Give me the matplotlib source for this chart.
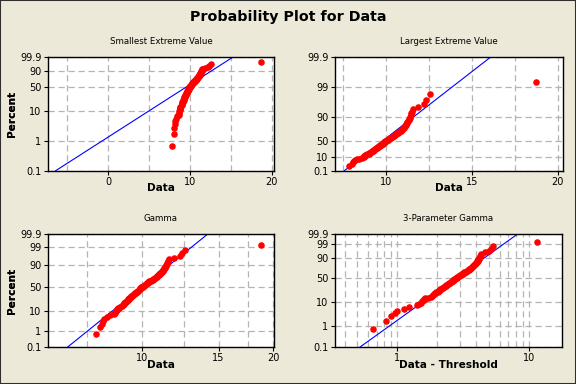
import numpy as np
import matplotlib.pyplot as plt
from matplotlib.patches import Rectangle
from matplotlib.ticker import NullFormatter
from statistics import NormalDist

W, H = 576, 384

# sorted sample (n = 100)
data = [7.86, 8.03, 8.10, 8.16, 8.20, 8.33, 8.44, 8.62, 8.68, 8.72,
        8.76, 8.79, 8.81, 8.84, 8.93, 9.01, 9.05, 9.08, 9.10, 9.12,
        9.15, 9.19, 9.23, 9.27, 9.29, 9.31, 9.33, 9.35, 9.38, 9.42,
        9.46, 9.49, 9.52, 9.55, 9.57, 9.59, 9.62, 9.65, 9.69, 9.72,
        9.75, 9.78, 9.80, 9.83, 9.86, 9.88, 9.90, 9.92, 9.95, 9.98,
        10.01, 10.04, 10.07, 10.10, 10.14, 10.18, 10.21, 10.24, 10.27, 10.31,
        10.35, 10.38, 10.41, 10.45, 10.49, 10.54, 10.58, 10.62, 10.66, 10.70,
        10.74, 10.78, 10.82, 10.86, 10.90, 10.93, 10.96, 10.99, 11.03, 11.07,
        11.11, 11.14, 11.17, 11.20, 11.23, 11.26, 11.29, 11.32, 11.35, 11.38,
        11.41, 11.44, 11.47, 11.51, 11.56, 11.85, 12.22, 12.36, 12.55, 18.75]
threshold = 7.2

# fitted parameters
sev_loc, sev_scale = 10.5, 2.45
lev_loc, lev_scale = 9.445, 0.96
gam_shape, gam_scale = 71.0, 0.1415
gam3_shape, gam3_scale = 6.0, 0.4947

pct_sev = [0.1, 1, 10, 50, 90, 99.9]
pct_lev = [0.1, 10, 50, 90, 99, 99.9]
pct_gam = [0.1, 1, 10, 50, 90, 99, 99.9]

nd = NormalDist()


def sev_y(p):
    p = np.asarray(p, float)
    return np.log(-np.log(1 - p))


def lev_y(p):
    p = np.asarray(p, float)
    return -np.log(-np.log(p))


def gam_y(p, k):
    # Wilson-Hilferty: ln of standard gamma quantile
    z = np.array([nd.inv_cdf(v) for v in np.atleast_1d(p)])
    return 3 * np.log(1 - 1 / (9 * k) + z / (3 * np.sqrt(k))) + np.log(k)


x = np.array(data)
n = len(x)
pp = (np.arange(1, n + 1) - 0.3) / (n + 0.4)
pline = np.linspace(0.001, 0.999, 400)

BG = "#ECE9D8"
GRID = dict(color="#b4b4b4", linestyle=(0, (5, 3)), linewidth=0.9)

fig = plt.figure(figsize=(W / 100, H / 100), dpi=100, facecolor=BG)
plt.rcParams["font.family"] = "DejaVu Sans"


def make_ax(l, t, r, b):
    ax = fig.add_axes([l / W, 1 - b / H, (r - l) / W, (b - t) / H])
    ax.set_facecolor("white")
    for s in ax.spines.values():
        s.set_linewidth(1.0)
        s.set_color("black")
    ax.tick_params(which="major", direction="out", length=3, width=0.8,
                   labelsize=7, pad=1.5)
    ax.tick_params(which="minor", length=0)
    ax.set_axisbelow(True)
    return ax


def finish(ax, title, xlabel, yfun, pcts, cx, top):
    ax.set_ylim(yfun(0.001), yfun(0.999))
    ax.set_yticks(yfun(np.array(pcts) / 100.0))
    ax.set_yticklabels([str(v) for v in pcts])
    ax.grid(True, which="both", axis="x", **GRID)
    ax.grid(True, which="major", axis="y", **GRID)
    fig.text(cx / W, 1 - (top - 15.5) / H, title, ha="center", va="center",
             fontsize=6.2)
    fig.text(cx / W, 1 - (top + 131) / H, xlabel, ha="center", va="center",
             fontsize=7.6, fontweight="bold")
    fig.text(12.5 / W, 1 - (top + 56.5) / H, "Percent", ha="center",
             va="center", rotation=90, fontsize=7.6, fontweight="bold")


mk = dict(marker="o", ms=3.7, color="red", mec="red", ls="none", zorder=3)
ln = dict(color="blue", lw=0.8, zorder=2)

# Smallest extreme value
ax1 = make_ax(47.7, 57.3, 274, 170.7)
ax1.plot(sev_loc + sev_scale * sev_y(pline), sev_y(pline), **ln)
ax1.plot(x, sev_y(pp), **mk)
ax1.set_xlim(-7.4, 20.3)
ax1.set_xticks([0, 10, 20])
ax1.set_xticks([-5, 5, 15], minor=True)
finish(ax1, "Smallest Extreme Value", "Data", sev_y, pct_sev, 160.9, 57.3)

# Largest extreme value
ax2 = make_ax(334.7, 57.3, 563, 170.7)
ax2.plot(lev_loc + lev_scale * lev_y(pline), lev_y(pline), **ln)
ax2.plot(x, lev_y(pp), **mk)
ax2.set_xlim(7.03, 20.3)
ax2.set_xticks([10, 15, 20])
ax2.set_xticks([7.5, 12.5, 17.5], minor=True)
finish(ax2, "Largest Extreme Value", "Data", lev_y, pct_lev, 448.9, 57.3)

# Gamma
gy = lambda p: gam_y(p, gam_shape)
ax3 = make_ax(47.7, 234.3, 274, 347)
ax3.plot(gam_scale * np.exp(gy(pline)), gy(pline), **ln)
ax3.plot(x, gy(pp), **mk)
ax3.set_xscale("log")
ax3.set_xlim(6.08, 20.1)
ax3.set_xticks([10, 15, 20])
ax3.set_xticklabels(["10", "15", "20"])
ax3.set_xticks([7.5, 12.5, 17.5], minor=True)
ax3.xaxis.set_minor_formatter(NullFormatter())
finish(ax3, "Gamma", "Data", gy, pct_gam, 160.9, 234.3)

# 3-parameter gamma
g3 = lambda p: gam_y(p, gam3_shape)
ax4 = make_ax(334.7, 234.3, 562, 347)
ax4.plot(gam3_scale * np.exp(g3(pline)), g3(pline), **ln)
ax4.plot(x - threshold, g3(pp), **mk)
ax4.set_xscale("log")
ax4.set_xlim(0.336, 17.9)
ax4.set_xticks([1, 10])
ax4.set_xticklabels(["1", "10"])
ax4.set_xticks([0.4, 0.5, 0.6, 0.7, 0.8, 0.9, 2, 3, 4, 5, 6, 7, 8, 9],
               minor=True)
ax4.xaxis.set_minor_formatter(NullFormatter())
finish(ax4, "3-Parameter Gamma", "Data - Threshold", g3, pct_gam, 448.4, 234.3)

fig.text(0.5, 1 - 17 / H, "Probability Plot for Data", ha="center",
         va="center", fontsize=10.3, fontweight="bold")
fig.patches.append(Rectangle((0, 0), 1, 1, transform=fig.transFigure,
                             fill=False, ec="#303030", lw=1.5))

fig.savefig("out.png", dpi=100, facecolor=BG)
